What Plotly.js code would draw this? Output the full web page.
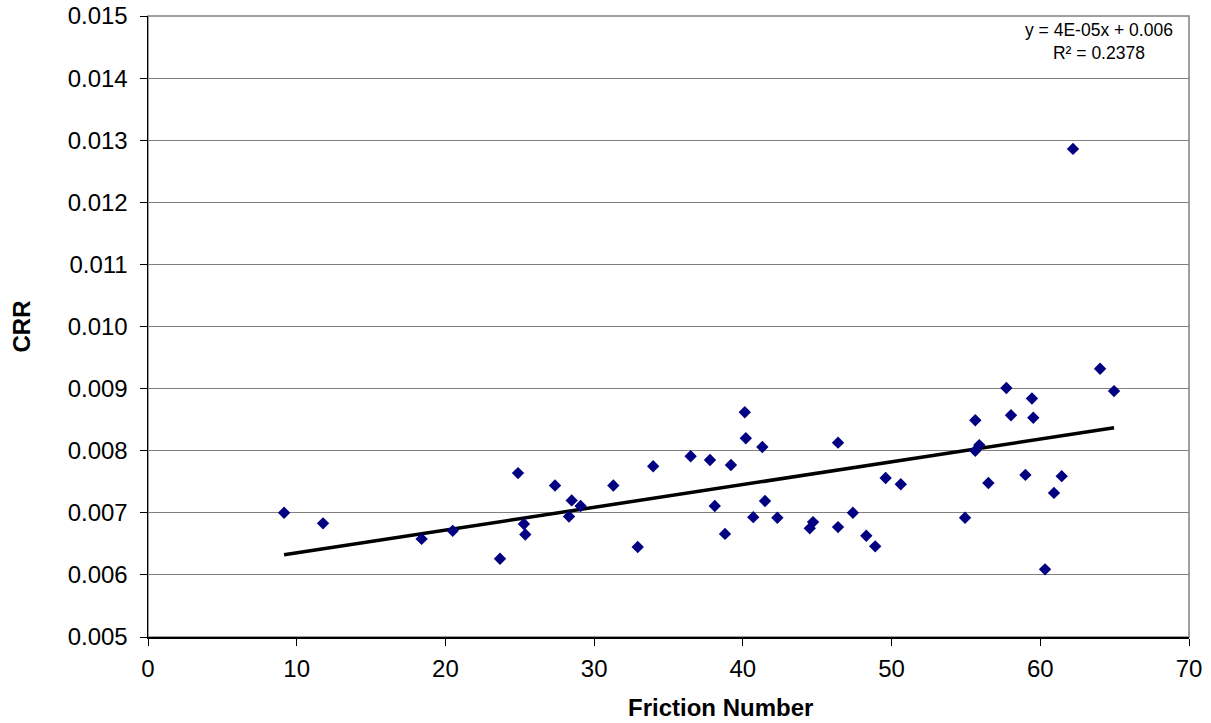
<!DOCTYPE html>
<html>
<head>
<meta charset="utf-8">
<script src="https://cdn.plot.ly/plotly-3.0.1.min.js"></script>
<style>html,body{margin:0;padding:0;background:#fff;}#chart{width:1211px;height:723px;}</style>
</head>
<body>
<div id="chart"></div>
<script>
const frictionNumber = [9.15, 11.77, 18.4, 20.49, 23.67, 24.88, 25.28, 25.37, 27.37, 28.49, 28.31, 29.09, 31.29, 32.93, 33.97, 36.49, 37.79, 38.11, 38.8, 39.2, 40.13, 40.2, 41.31, 41.49, 40.7, 42.32, 44.5, 44.72, 46.4, 46.4, 47.4, 48.3, 48.9, 49.6, 50.62, 54.94, 55.63, 55.63, 55.9, 56.51, 57.72, 58.03, 59.0, 59.44, 59.53, 60.32, 60.92, 61.44, 62.2, 64.02, 64.96];
const crr = [0.00700, 0.00683, 0.00658, 0.00671, 0.00626, 0.00764, 0.00682, 0.00665, 0.00744, 0.00720, 0.00694, 0.00711, 0.00744, 0.00645, 0.00775, 0.00791, 0.00785, 0.00711, 0.00666, 0.00777, 0.00862, 0.00820, 0.00806, 0.00719, 0.00693, 0.00692, 0.00675, 0.00685, 0.00813, 0.00677, 0.00700, 0.00663, 0.00646, 0.00756, 0.00746, 0.00692, 0.00849, 0.00800, 0.00809, 0.00748, 0.00901, 0.00857, 0.00761, 0.00884, 0.00853, 0.00609, 0.00732, 0.00759, 0.01286, 0.00932, 0.00896];
const trendLabel = ["y = 4E-05x + 0.006", "R² = 0.2378"];
const xTitle = "Friction Number";
const yTitle = "CRR";
const xTicks = [0, 10, 20, 30, 40, 50, 60, 70];
const yTicks = [0.005, 0.006, 0.007, 0.008, 0.009, 0.010, 0.011, 0.012, 0.013, 0.014, 0.015];

// least-squares linear trend computed from the data
const n = frictionNumber.length;
const mx = frictionNumber.reduce((a, b) => a + b, 0) / n;
const my = crr.reduce((a, b) => a + b, 0) / n;
let sxy = 0, sxx = 0;
for (let i = 0; i < n; i++) { sxy += (frictionNumber[i] - mx) * (crr[i] - my); sxx += (frictionNumber[i] - mx) ** 2; }
const slope = sxy / sxx, intercept = my - slope * mx;
const xMin = Math.min(...frictionNumber), xMax = Math.max(...frictionNumber);
const trendX = [xMin, xMax];
const trendY = trendX.map(v => intercept + slope * v);

const font = 'Liberation Sans, Arial, sans-serif';
const data = [
  {x: trendX, y: trendY, mode: 'lines', type: 'scatter', line: {color: '#000', width: 3.5}, hoverinfo: 'skip'},
  {x: frictionNumber, y: crr, mode: 'markers', type: 'scatter',
   marker: {symbol: 'diamond', color: '#000080', size: 9.5, line: {width: 0}}}
];
const layout = {
  width: 1211, height: 723,
  margin: {l: 148, r: 22, t: 16, b: 86},
  paper_bgcolor: '#fff', plot_bgcolor: '#fff',
  showlegend: false,
  font: {family: font, size: 24, color: '#000'},
  xaxis: {range: [0, 70], tickvals: xTicks, ticktext: xTicks.map(String),
    ticks: 'outside', ticklen: 7, tickcolor: '#000', showgrid: false, zeroline: false,
    showline: true, linecolor: '#000', linewidth: 1.5, ticklabelstandoff: 3,
    tickfont: {size: 24}},
  yaxis: {range: [0.005, 0.015], tickvals: yTicks, ticktext: yTicks.map(v => v.toFixed(3)),
    ticks: 'outside', ticklen: 7, tickcolor: '#000', showgrid: true, gridcolor: '#808080', gridwidth: 1,
    zeroline: false, showline: true, linecolor: '#000', linewidth: 1.5, ticklabelstandoff: 7,
    tickfont: {size: 24},
    title: {text: yTitle, font: {size: 24, family: font, weight: 'bold'}, standoff: 30}},
  shapes: [{type: 'rect', xref: 'paper', yref: 'paper', x0: 0, x1: 1, y0: 0, y1: 1,
    line: {color: '#808080', width: 1.5}, layer: 'below'}],
  annotations: [
    {xref: 'paper', yref: 'paper', x: 1, y: 1, xanchor: 'right', yanchor: 'top',
     xshift: -14, yshift: -2, showarrow: false, align: 'center',
     text: trendLabel.join('<br>'), font: {size: 17.5, family: font, color: '#000'}},
    {xref: 'paper', yref: 'paper', x: 0.5495, y: -0.1143, xanchor: 'center', yanchor: 'middle',
     showarrow: false, text: '<b>' + xTitle + '</b>', font: {size: 24, family: font, color: '#000'}}
  ]
};
Plotly.newPlot('chart', data, layout, {displayModeBar: false, staticPlot: true});
</script>
</body>
</html>
